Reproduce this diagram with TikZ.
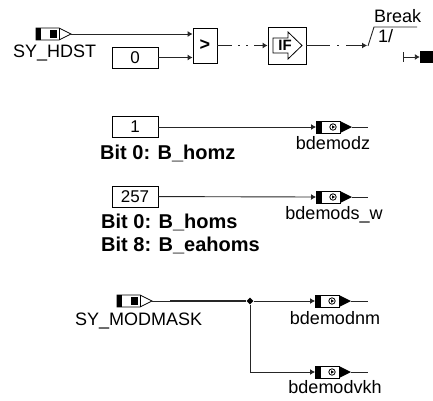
\documentclass[tikz,border=0pt]{standalone}
\usepackage{fontspec}
\setmainfont{Liberation Sans}
\usetikzlibrary{arrows.meta,positioning,calc,shapes.geometric}
\tikzset{
  wire/.style={line width=0.9pt,draw=black!85},
  into/.style={wire,-{Latex[length=5pt,width=6pt]}},
  constbox/.style={draw,line width=0.8pt,minimum width=46pt,minimum height=21pt,inner sep=0pt,font=\fontsize{17}{18}\selectfont},
  oplabel/.style={font=\fontsize{18}{20}\selectfont,inner sep=0pt},
  bitlabel/.style={font=\fontsize{20}{22}\selectfont\bfseries,inner sep=0pt,anchor=base west},
  opbox/.style={draw,line width=0.9pt,inner sep=0pt},
  pics/inport/.style={code={
    \draw[line width=0.8pt] (0,-6)--(23,-6)--(35,0)--(23,6)--(0,6)--cycle;
    \draw[line width=0.8pt] (23,-6)--(23,6);
    \fill (0,-6) rectangle (5,6);
    \fill (14,-4) rectangle (21,4);
    \coordinate (-out) at (35,0);
  }},
  pics/outport/.style={code={
    \draw[line width=0.8pt] (0,-6) rectangle (24,6);
    \fill (0,-6) rectangle (6,6);
    \fill (24,-6)--(36,0)--(24,6)--cycle;
    \draw[line width=0.8pt] (17,0) circle (3.2pt);
    \fill (16.2,-1.6)--(19,0)--(16.2,1.6)--cycle;
    \coordinate (-in) at (0,0);
    \coordinate (-out) at (36,0);
  }}
}
\begin{document}
\begin{tikzpicture}[x=1pt,y=-1pt]
  \useasboundingbox (0,0) rectangle (433,400);
  % top row
  \pic (hdst) at (36,34) {inport};
  \node[oplabel,anchor=base west] (hdstname) at (13,57) {SY\_HDST};
  \node[constbox] (zero) at (135,57.5) {0};
  \node[opbox,minimum width=24pt,minimum height=35pt] (gt) at (205,45.5) {};
  \node[font=\fontsize{18}{18}\selectfont\bfseries,inner sep=0pt] (gtsign) at (205,45.5) {>};
  \node[opbox,minimum width=38pt,minimum height=37pt] (ifbox) at (287,45.5) {};
  \draw[line width=0.8pt] (273,38)--(288,38)--(288,32)--(302,45.5)--(288,59)--(288,53)--(273,53)--cycle;
  \node[font=\fontsize{15}{15}\selectfont\bfseries,inner sep=0pt] (iftext) at (285,45.5) {IF};
  \coordinate (brk) at (367,45.5);
  \node[oplabel,anchor=base west] (breakname) at (374,22) {Break};
  \node[oplabel,anchor=base west] (breakval) at (378,42.5) {1/};
  \draw[wire] (368,46)--(374,27)--(417,27);
  \node[fill=black,minimum width=13pt,minimum height=12pt,inner sep=0pt] (term) at (426.5,57) {};
  \coordinate (termstart) at (403,57);
  \draw[into] (hdst-out)--(gt.west |- hdst-out);
  \draw[into] (zero)--(gt.west |- zero);
  \draw[into,dash pattern=on 15pt off 6pt on 2pt off 6pt on 2pt off 6pt] (gt)--(ifbox);
  \draw[into,dash pattern=on 24pt off 7pt on 2pt off 7pt] (ifbox)--(brk);
  \draw[into] (termstart)--(term);
  \draw[wire] (403,52)--(403,62);
  % constants
  \node[constbox] (one) at (135,127) {1};
  \node[bitlabel] (bitz) at (100,159) {Bit 0: B\_homz};
  \pic (modz) at (316,127) {outport};
  \node[oplabel,anchor=base] (modzname) at (333,149) {bdemodz};
  \coordinate (modzend) at (368,127);
  \draw[into] (one)--(modz-in);
  \draw[wire] (modz-out)--(modzend);
  \node[constbox] (twofive) at (135,196.5) {257};
  \node[bitlabel] (bits) at (101,228) {Bit 0: B\_homs};
  \node[bitlabel] (bite) at (101,251) {Bit 8: B\_eahoms};
  \pic (mods) at (316,197) {outport};
  \node[oplabel,anchor=base] (modsname) at (334,219) {bdemods\_w};
  \coordinate (modsend) at (368,197);
  \draw[into] (twofive)--(mods-in);
  \draw[wire] (mods-out)--(modsend);
  % mask
  \pic (mask) at (117,301) {inport};
  \node[oplabel,anchor=base west] (maskname) at (75,325) {SY\_MODMASK};
  \node[diamond,fill=black,minimum size=7pt,inner sep=0pt] (split) at (250,301) {};
  \pic (modnm) at (315,301) {outport};
  \node[oplabel,anchor=base] (modnmname) at (335,324) {bdemodnm};
  \coordinate (modnmend) at (368,301);
  \pic (modvkh) at (315,372) {outport};
  \node[oplabel,anchor=base] (modvkhname) at (335,393) {bdemodvkh};
  \coordinate (modvkhend) at (368,372);
  \draw[wire] (mask-out)--(split);
  \draw[wire,line width=1.3pt] (170,301)--(split);
  \draw[into] (split)--(modnm-in);
  \draw[into] (split) |- (modvkh-in);
  \draw[wire] (modnm-out)--(modnmend);
  \draw[wire] (modvkh-out)--(modvkhend);
\end{tikzpicture}
\end{document}
